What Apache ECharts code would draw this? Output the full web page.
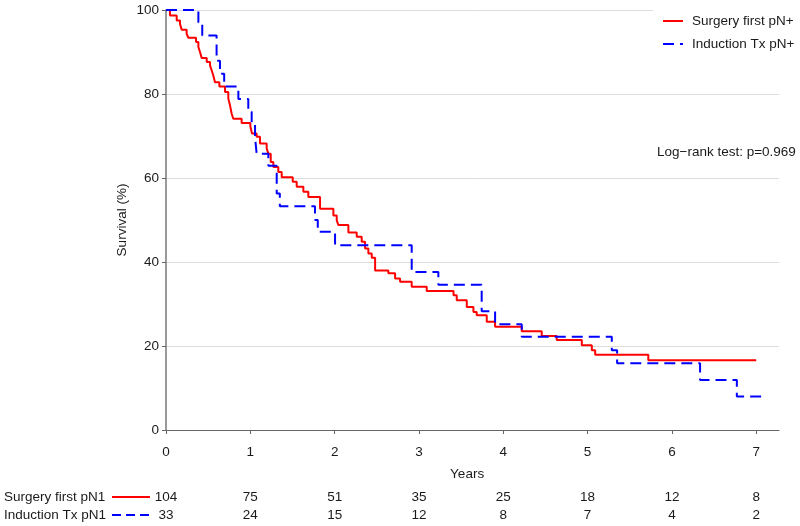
<!DOCTYPE html>
<html><head><meta charset="utf-8">
<script src="https://cdn.jsdelivr.net/npm/echarts@6/dist/echarts.min.js"></script>
<style>html,body{margin:0;padding:0;background:#fff}#c{width:800px;height:526px}</style>
</head><body><div id="c"></div>
<script>
const FONT = '"Liberation Sans", Arial, Helvetica, sans-serif';
const FS = 13.5;
const yearTicks = [0, 1, 2, 3, 4, 5, 6, 7];
const seriesNames = ['Surgery first pN+', 'Induction Tx pN+'];
const riskLabels = ['Surgery first pN1', 'Induction Tx pN1'];
const logRankText = 'Log\u2212rank test: p=0.969';

const surgeryTimes = [0, 0.047, 0.127, 0.166, 0.186, 0.245, 0.265, 0.356, 0.384, 0.403, 0.423, 0.483, 0.522, 0.542, 0.561, 0.581, 0.633, 0.700, 0.739, 0.759, 0.779, 0.798, 0.897, 1.000, 1.020, 1.075, 1.115, 1.194, 1.214, 1.242, 1.273, 1.332, 1.372, 1.503, 1.550, 1.629, 1.688, 1.827, 1.985, 2.025, 2.044, 2.163, 2.262, 2.321, 2.361, 2.400, 2.440, 2.480, 2.637, 2.717, 2.776, 2.914, 3.092, 3.410, 3.448, 3.567, 3.646, 3.685, 3.804, 3.903, 4.219, 4.456, 4.634, 4.931, 5.050, 5.090, 5.720, 7.000];
const surgerySurv = [100, 98.7, 97.5, 96.7, 95.3, 94.3, 93.4, 92.4, 91.2, 90.0, 88.6, 87.6, 86.8, 85.6, 84.4, 82.8, 81.8, 80.5, 78.9, 77.3, 75.3, 74.1, 73.1, 72.3, 70.6, 69.8, 68.2, 67.0, 65.8, 63.8, 62.6, 61.4, 60.2, 59.1, 57.9, 56.7, 55.5, 52.7, 51.1, 49.9, 48.8, 47.0, 46.0, 44.8, 43.2, 42.0, 41.0, 38.0, 37.3, 36.1, 35.3, 34.1, 33.1, 32.1, 30.9, 29.3, 28.1, 27.3, 25.8, 24.6, 23.5, 22.4, 21.4, 20.2, 19.0, 17.9, 16.6, 16.6];

const inductionTimes = [0, 0.384, 0.430, 0.600, 0.640, 0.690, 0.858, 0.976, 1.016, 1.056, 1.075, 1.214, 1.313, 1.350, 1.767, 1.800, 2.005, 2.914, 3.230, 3.744, 3.903, 4.219, 5.287, 5.350, 6.334, 6.770, 7.080];
const inductionSurv = [100, 97.0, 93.9, 87.9, 84.8, 81.8, 78.8, 75.8, 72.7, 69.7, 65.8, 62.9, 56.3, 53.3, 50.0, 47.2, 44.0, 37.6, 34.6, 28.3, 25.2, 22.2, 19.0, 15.9, 11.9, 8.0, 8.0];

const riskSurgery = [104, 75, 51, 35, 25, 18, 12, 8];
const riskInduction = [33, 24, 15, 12, 8, 7, 4, 2];

function pairs(t, s) { return t.map((v, i) => [v, s[i]]); }

const chart = echarts.init(document.getElementById('c'), null, { renderer: 'canvas' });
const INK = '#1a1a1a';

chart.setOption({
  animation: false,
  backgroundColor: '#fff',
  textStyle: { fontFamily: FONT, fontSize: FS, color: INK },
  grid: { left: 166, right: 21, top: 10, bottom: 96, containLabel: false },
  legend: {
    show: true, orient: 'vertical', left: 653, top: 8, right: 'auto', bottom: 'auto',
    padding: [6, 6, 6, 9], backgroundColor: '#fff',
    itemWidth: 20, itemHeight: 14, itemGap: 9,
    itemStyle: { opacity: 0 },
    textStyle: { fontFamily: FONT, fontSize: FS, color: INK, padding: [0, 0, 0, 4] },
    data: seriesNames
  },
  xAxis: {
    type: 'value', min: 0, max: 7.27, interval: 1,
    splitLine: { show: false },
    axisLine: { show: true, onZero: false, lineStyle: { color: '#666', width: 1.2 } },
    axisTick: { show: true, length: 4, lineStyle: { color: '#666' }, customValues: yearTicks },
    axisLabel: { margin: 15, fontFamily: FONT, fontSize: FS, color: INK, customValues: yearTicks }
  },
  yAxis: {
    type: 'value', min: 0, max: 100, interval: 20,
    name: 'Survival (%)', nameLocation: 'middle', nameGap: 37, nameMoveOverlap: false,
    nameTextStyle: { fontFamily: FONT, fontSize: FS, color: INK },
    splitLine: { show: true, lineStyle: { color: '#dcdcdc', width: 1 } },
    axisLine: { show: true, lineStyle: { color: '#777', width: 1.5 } },
    axisTick: { show: true, length: 4, lineStyle: { color: '#666' } },
    axisLabel: { margin: 7, fontFamily: FONT, fontSize: FS, color: INK }
  },
  series: [
    {
      name: seriesNames[0], type: 'line', step: 'end', showSymbol: false, symbol: 'none',
      data: pairs(surgeryTimes, surgerySurv),
      lineStyle: { color: '#ff0000', width: 2 }, itemStyle: { color: '#ff0000' }, z: 3
    },
    {
      name: seriesNames[1], type: 'line', step: 'end', showSymbol: false, symbol: 'none',
      data: pairs(inductionTimes, inductionSurv),
      lineStyle: { color: '#0000ff', width: 2, type: [11, 6] }, itemStyle: { color: '#0000ff' }, z: 4
    }
  ]
});

// risk table + annotations, positioned through the axis scale
const rowY = [497, 515];
const graphics = [];
graphics.push({ type: 'text', x: 657, y: 152,
  style: { text: logRankText, font: FS + 'px ' + FONT, fill: INK, verticalAlign: 'middle' } });
graphics.push({ type: 'text', x: chart.convertToPixel({ xAxisIndex: 0 }, 3.5) + 6, y: 474,
  style: { text: 'Years', font: FS + 'px ' + FONT, fill: INK, align: 'center', verticalAlign: 'middle' } });
[riskSurgery, riskInduction].forEach((row, r) => {
  graphics.push({ type: 'text', x: 4, y: rowY[r],
    style: { text: riskLabels[r], font: FS + 'px ' + FONT, fill: INK, verticalAlign: 'middle' } });
  graphics.push({ type: 'line', shape: { x1: 112, y1: rowY[r], x2: 150, y2: rowY[r] },
    style: { stroke: r === 0 ? '#ff0000' : '#0000ff', lineWidth: 2, lineDash: r === 0 ? null : [9, 5] } });
  row.forEach((v, i) => {
    const px = chart.convertToPixel({ xAxisIndex: 0 }, yearTicks[i]);
    graphics.push({ type: 'text', x: px, y: rowY[r],
      style: { text: String(v), font: FS + 'px ' + FONT, fill: INK, align: 'center', verticalAlign: 'middle' } });
  });
});
chart.setOption({ graphic: graphics });
</script>
</body></html>
